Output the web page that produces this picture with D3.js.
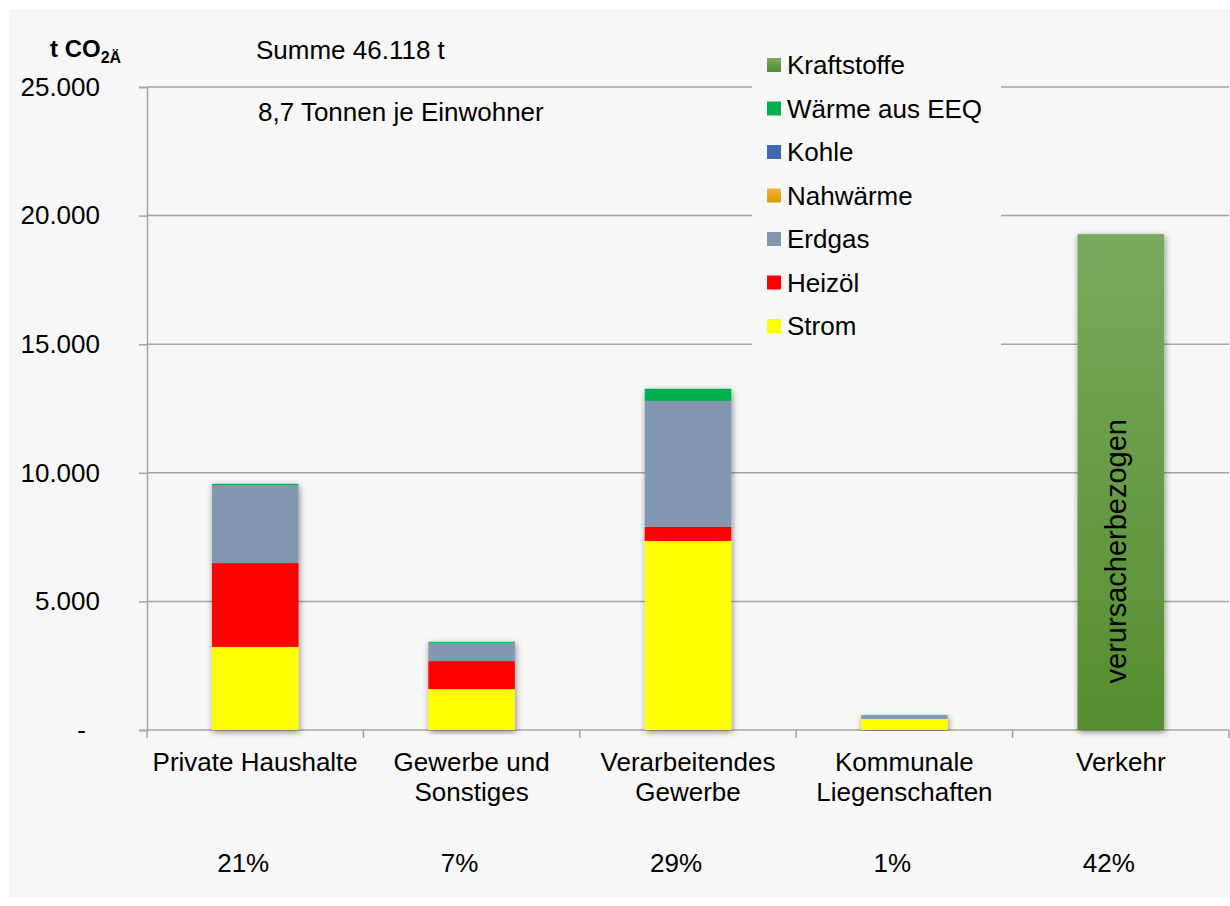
<!DOCTYPE html>
<html>
<head>
<meta charset="utf-8">
<script src="https://cdn.jsdelivr.net/npm/d3@7"></script>
<style>
  body { margin: 0; background: #ffffff; }
  svg { display: block; font-family: "Liberation Sans", Arial, sans-serif; }
</style>
</head>
<body>
<script>
const width = 1230; //Size of the picture.
const height = 906;

//Data (t CO2-Äquivalent).
const categories = ["Private Haushalte", "Gewerbe und Sonstiges", "Verarbeitendes Gewerbe", "Kommunale Liegenschaften", "Verkehr"];
const categoryLines = [["Private Haushalte"], ["Gewerbe und", "Sonstiges"], ["Verarbeitendes", "Gewerbe"], ["Kommunale", "Liegenschaften"], ["Verkehr"]];
const seriesNames = ["Strom", "Heizöl", "Erdgas", "Nahwärme", "Kohle", "Wärme aus EEQ", "Kraftstoffe"]; //bottom to top
const strom       = [3230, 1590, 7350, 430, 0];
const heizoel     = [3260, 1090, 545, 0, 0];
const erdgas      = [3030, 710, 4900, 110, 0];
const nahwaerme   = [0, 0, 0, 0, 0];
const kohle       = [0, 0, 0, 10, 0];
const waermeEEQ   = [50, 40, 470, 20, 0];
const kraftstoffe = [0, 0, 0, 0, 19280];
const percentLabels = ["21%", "7%", "29%", "1%", "42%"];
const yTicks = [0, 5000, 10000, 15000, 20000, 25000];
const sumText = "Summe 46.118 t";
const perHeadText = "8,7 Tonnen je Einwohner";
const verkehrNote = "verursacherbezogen";

const seriesValues = [strom, heizoel, erdgas, nahwaerme, kohle, waermeEEQ, kraftstoffe];
const colours = {
  "Strom": "#ffff00",
  "Heizöl": "#ff0000",
  "Erdgas": "#8497b0",
  "Nahwärme": "url(#gradNah)",
  "Kohle": "#3f67b3",
  "Wärme aus EEQ": "#00b050",
  "Kraftstoffe": "url(#gradKraft)"
};

//Table for d3.stack
const table = categories.map((c, i) => {
  let row = { category: c };
  seriesNames.forEach((s, j) => row[s] = seriesValues[j][i]);
  return row;
});

const plotLeft = 147, plotRight = 1229, plotTop = 87, plotBottom = 730;

const svg = d3.select("body").append("svg")
  .attr("width", width)
  .attr("height", height);

const defs = svg.append("defs");
const gK = defs.append("linearGradient").attr("id", "gradKraft").attr("x1", 0).attr("x2", 0).attr("y1", 0).attr("y2", 1);
gK.append("stop").attr("offset", "0%").attr("stop-color", "#79aa5e");
gK.append("stop").attr("offset", "100%").attr("stop-color", "#558d2f");
const gN = defs.append("linearGradient").attr("id", "gradNah").attr("x1", 0).attr("x2", 0).attr("y1", 0).attr("y2", 1);
gN.append("stop").attr("offset", "0%").attr("stop-color", "#f2b43c");
gN.append("stop").attr("offset", "100%").attr("stop-color", "#d99a00");
defs.append("filter").attr("id", "shadow").attr("x", "-20%").attr("y", "-5%").attr("width", "140%").attr("height", "110%")
  .append("feDropShadow")
  .attr("dx", 1).attr("dy", 2).attr("stdDeviation", 3)
  .attr("flood-color", "#000").attr("flood-opacity", 0.45);

//Chart background
svg.append("rect")
  .attr("x", 9).attr("y", 9)
  .attr("width", width - 9).attr("height", height - 18)
  .attr("fill", "#f7f7f7");

const yScale = d3.scaleLinear().domain([0, 25000]).range([plotBottom, plotTop]);
const xScale = d3.scaleBand().domain(categories).range([plotLeft, plotRight]).padding(0);
const barWidth = xScale.bandwidth() * 0.4;

const de = d3.formatLocale({ decimal: ",", thousands: ".", grouping: [3], currency: ["", " €"] });
const fmt = de.format(",");

//Gridlines
svg.append("g").selectAll("line")
  .data(yTicks.filter(d => d > 0))
  .enter().append("line")
  .attr("x1", plotLeft).attr("x2", plotRight)
  .attr("y1", d => yScale(d)).attr("y2", d => yScale(d))
  .attr("stroke", "#a3a3a3").attr("stroke-width", 1.5);

//Y axis
const yAxis = d3.axisLeft(yScale)
  .tickValues(yTicks)
  .tickSize(8)
  .tickPadding(39)
  .tickFormat(d => d === 0 ? "-" : fmt(d));

const yG = svg.append("g")
  .attr("transform", "translate(" + plotLeft + ",0)")
  .call(yAxis);
yG.select(".domain").attr("stroke", "#a3a3a3").attr("stroke-width", 1.5);
yG.selectAll(".tick line").attr("stroke", "#a3a3a3").attr("stroke-width", 1.5);
yG.selectAll(".tick text")
  .attr("font-size", 26)
  .attr("font-family", "Liberation Sans, Arial, sans-serif")
  .attr("fill", "#000")
  .attr("dx", d => d === 0 ? -14 : 0);

//X axis line and category boundary ticks
svg.append("line")
  .attr("x1", plotLeft).attr("x2", plotRight)
  .attr("y1", plotBottom).attr("y2", plotBottom)
  .attr("stroke", "#a3a3a3").attr("stroke-width", 1.5);
svg.append("g").selectAll("line")
  .data(categories.map(c => xScale(c)).concat([plotRight]))
  .enter().append("line")
  .attr("x1", d => d).attr("x2", d => d)
  .attr("y1", plotBottom).attr("y2", plotBottom + 8)
  .attr("stroke", "#a3a3a3").attr("stroke-width", 1.5);

//Stacked bars
const stacked = d3.stack().keys(seriesNames)(table);
const barGroups = svg.append("g").selectAll("g")
  .data(categories)
  .enter().append("g")
  .attr("filter", "url(#shadow)");

barGroups.each(function(c, i) {
  const g = d3.select(this);
  stacked.forEach(layer => {
    const seg = layer[i];
    if (seg[1] - seg[0] <= 0) return;
    g.append("rect")
      .attr("x", xScale(c) + (xScale.bandwidth() - barWidth) / 2)
      .attr("width", barWidth)
      .attr("y", yScale(seg[1]))
      .attr("height", yScale(seg[0]) - yScale(seg[1]))
      .attr("fill", colours[layer.key]);
  });
});

//Note inside the Verkehr bar
const vx = xScale("Verkehr") + xScale.bandwidth() / 2;
svg.append("text")
  .attr("transform", "translate(" + (vx + 5) + "," + yScale(6950) + ") rotate(-90)")
  .attr("text-anchor", "middle")
  .attr("font-size", 29)
  .attr("fill", "#000")
  .text(verkehrNote);

//Category labels
svg.append("g").selectAll("text")
  .data(categories)
  .enter().append("text")
  .attr("x", d => xScale(d) + xScale.bandwidth() / 2)
  .attr("y", 771)
  .attr("text-anchor", "middle")
  .attr("font-size", 26)
  .attr("fill", "#000")
  .each(function(d, i) {
    categoryLines[i].forEach((line, k) => {
      d3.select(this).append("tspan")
        .attr("x", xScale(d) + xScale.bandwidth() / 2)
        .attr("dy", k === 0 ? 0 : 30)
        .text(line);
    });
  });

//Percent shares
svg.append("g").selectAll("text")
  .data(percentLabels)
  .enter().append("text")
  .attr("x", (d, i) => xScale(categories[i]) + xScale.bandwidth() / 2 - 12)
  .attr("y", 872)
  .attr("text-anchor", "middle")
  .attr("font-size", 26)
  .attr("fill", "#000")
  .text(d => d);

//Unit title
const unit = svg.append("text")
  .attr("x", 50).attr("y", 57)
  .attr("font-size", 24)
  .attr("font-weight", "bold")
  .attr("fill", "#000");
unit.append("tspan").text("t CO");
unit.append("tspan").attr("font-size", 16).attr("dy", 6).text("2Ä");

//Summary texts
svg.append("text").attr("x", 256).attr("y", 59).attr("font-size", 26).attr("fill", "#000").text(sumText);
svg.append("text").attr("x", 258).attr("y", 121).attr("font-size", 26).attr("fill", "#000").text(perHeadText);

//Legend
const legendOrder = seriesNames.slice().reverse();
svg.append("rect")
  .attr("x", 752).attr("y", 40)
  .attr("width", 249).attr("height", 310)
  .attr("fill", "#f7f7f7");
const legend = svg.selectAll(".legend")
  .data(legendOrder)
  .enter().append("g")
  .attr("class", "legend")
  .attr("transform", (d, i) => "translate(767," + (65 + i * 43.5) + ")");
legend.append("rect")
  .attr("x", 0).attr("y", -7)
  .attr("width", 14).attr("height", 14)
  .attr("fill", d => colours[d]);
legend.append("text")
  .attr("x", 20).attr("y", 9)
  .attr("font-size", 26)
  .attr("fill", "#000")
  .text(d => d);
</script>
</body>
</html>
